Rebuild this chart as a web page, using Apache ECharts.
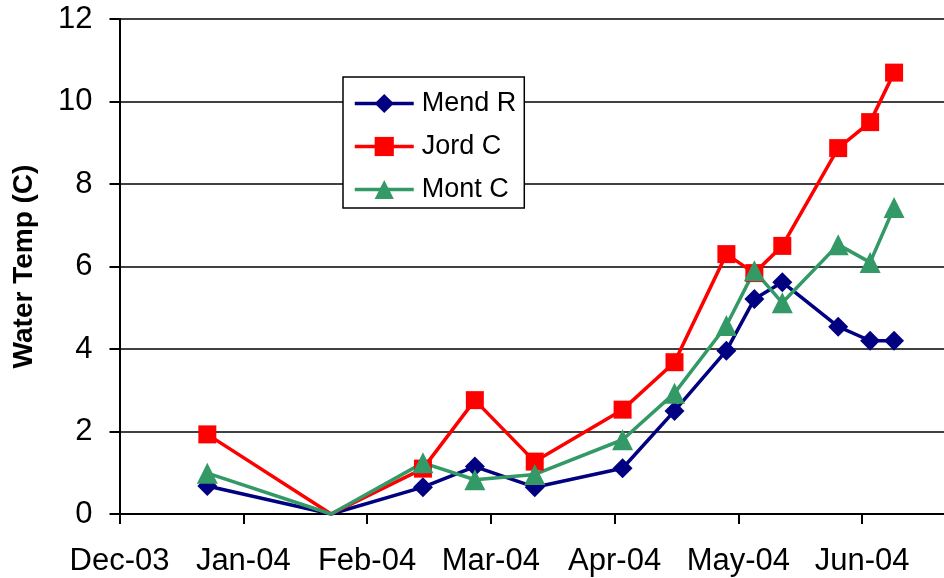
<!DOCTYPE html>
<html>
<head>
<meta charset="utf-8">
<script src="https://cdn.jsdelivr.net/npm/echarts@6/dist/echarts.min.js"></script>
<style>
  html, body { margin: 0; padding: 0; background: #fff; }
  #chart { width: 944px; height: 578px; }
</style>
</head>
<body>
<div id="chart"></div>
<script>
// Sampling dates and water temperatures (°C) for the three stations
const sampleDates = ['2003-12-23', '2004-01-23', '2004-02-15', '2004-02-28', '2004-03-14',
  '2004-04-05', '2004-04-18', '2004-05-01', '2004-05-08', '2004-05-15',
  '2004-05-29', '2004-06-06', '2004-06-12'];
const mendR = [0.68, 0, 0.65, 1.15, 0.65, 1.11, 2.5, 3.96, 5.21, 5.62, 4.54, 4.2, 4.2];
const jordC = [1.93, 0, 1.1, 2.76, 1.27, 2.53, 3.68, 6.3, 5.84, 6.5, 8.87, 9.5, 10.7];
const montC = [0.99, 0, 1.24, 0.83, 0.96, 1.8, 2.93, 4.57, 5.9, 5.12, 6.53, 6.1, 7.43];

// X tick labels, one per 31-day step from the axis origin
const tickLabels = ['Dec-03', 'Jan-04', 'Feb-04', 'Mar-04', 'Apr-04', 'May-04', 'Jun-04'];
const yTicks = [0, 2, 4, 6, 8, 10, 12];

// Days since the axis origin (1 Dec 2003)
const origin = Date.UTC(2003, 11, 1);
function dayOffset(s) {
  const p = s.split('-').map(Number);
  return (Date.UTC(p[0], p[1] - 1, p[2]) - origin) / 86400000;
}
const xDays = sampleDates.map(dayOffset);
// Zero readings are drawn as a bare vertex, without a marker
const pairs = vals => vals.map((v, i) => (
  v === 0 ? { value: [xDays[i], v], symbol: 'none' } : [xDays[i], v]
));

const FONT = "'Liberation Sans', Arial, sans-serif";
const chart = echarts.init(document.getElementById('chart'), null, { renderer: 'canvas' });

function lineSeries(name, vals, color, symbol, size) {
  return {
    name: name,
    type: 'line',
    data: pairs(vals),
    symbol: symbol,
    symbolSize: size,
    showAllSymbol: true,
    lineStyle: { color: color, width: 3.5 },
    itemStyle: { color: color },
    emphasis: { disabled: true }
  };
}

chart.setOption({
  animation: false,
  backgroundColor: '#fff',
  textStyle: { fontFamily: FONT },
  grid: { left: 119.5, right: 0, top: 19, bottom: 64, containLabel: false },
  legend: {
    orient: 'vertical',
    left: 343,
    top: 77,
    backgroundColor: '#fff',
    borderColor: '#000',
    borderWidth: 1.5,
    borderRadius: 0,
    padding: [13, 8, 5, 10],
    itemWidth: 59,
    itemHeight: 24,
    itemGap: 16,
    lineStyle: { width: 3.5 },
    textStyle: { fontFamily: FONT, fontSize: 27, color: '#000', padding: [0, 0, 0, 3] },
    data: ['Mend R', 'Jord C', 'Mont C']
  },
  xAxis: {
    type: 'value',
    min: 0,
    max: 206.5,
    interval: 31,
    axisLine: { show: true, onZero: false, lineStyle: { color: '#000', width: 2 } },
    axisTick: { show: true, inside: false, length: 10, lineStyle: { color: '#000', width: 2 } },
    axisLabel: {
      margin: 32,
      fontFamily: FONT,
      fontSize: 31,
      color: '#000',
      showMaxLabel: false,
      formatter: v => (v % 31 === 0 && tickLabels[v / 31]) ? tickLabels[v / 31] : ''
    },
    splitLine: { show: false }
  },
  yAxis: {
    type: 'value',
    min: yTicks[0],
    max: yTicks[yTicks.length - 1],
    interval: 2,
    name: 'Water Temp (C)',
    nameLocation: 'middle',
    nameRotate: 90,
    nameGap: 81,
    nameTextStyle: { fontFamily: FONT, fontSize: 28, fontWeight: 'bold', color: '#000' },
    axisLine: { show: true, lineStyle: { color: '#000', width: 2 } },
    axisTick: { show: true, inside: false, length: 10, lineStyle: { color: '#000', width: 2 } },
    axisLabel: { margin: 27, fontFamily: FONT, fontSize: 31, color: '#000' },
    splitLine: { show: true, lineStyle: { color: '#000', width: 1.5 } }
  },
  series: [
    lineSeries('Mend R', mendR, '#000080', 'diamond', 20),
    lineSeries('Jord C', jordC, '#ff0000', 'rect', 18),
    lineSeries('Mont C', montC, '#339966', 'triangle', 21)
  ]
});
</script>
</body>
</html>
